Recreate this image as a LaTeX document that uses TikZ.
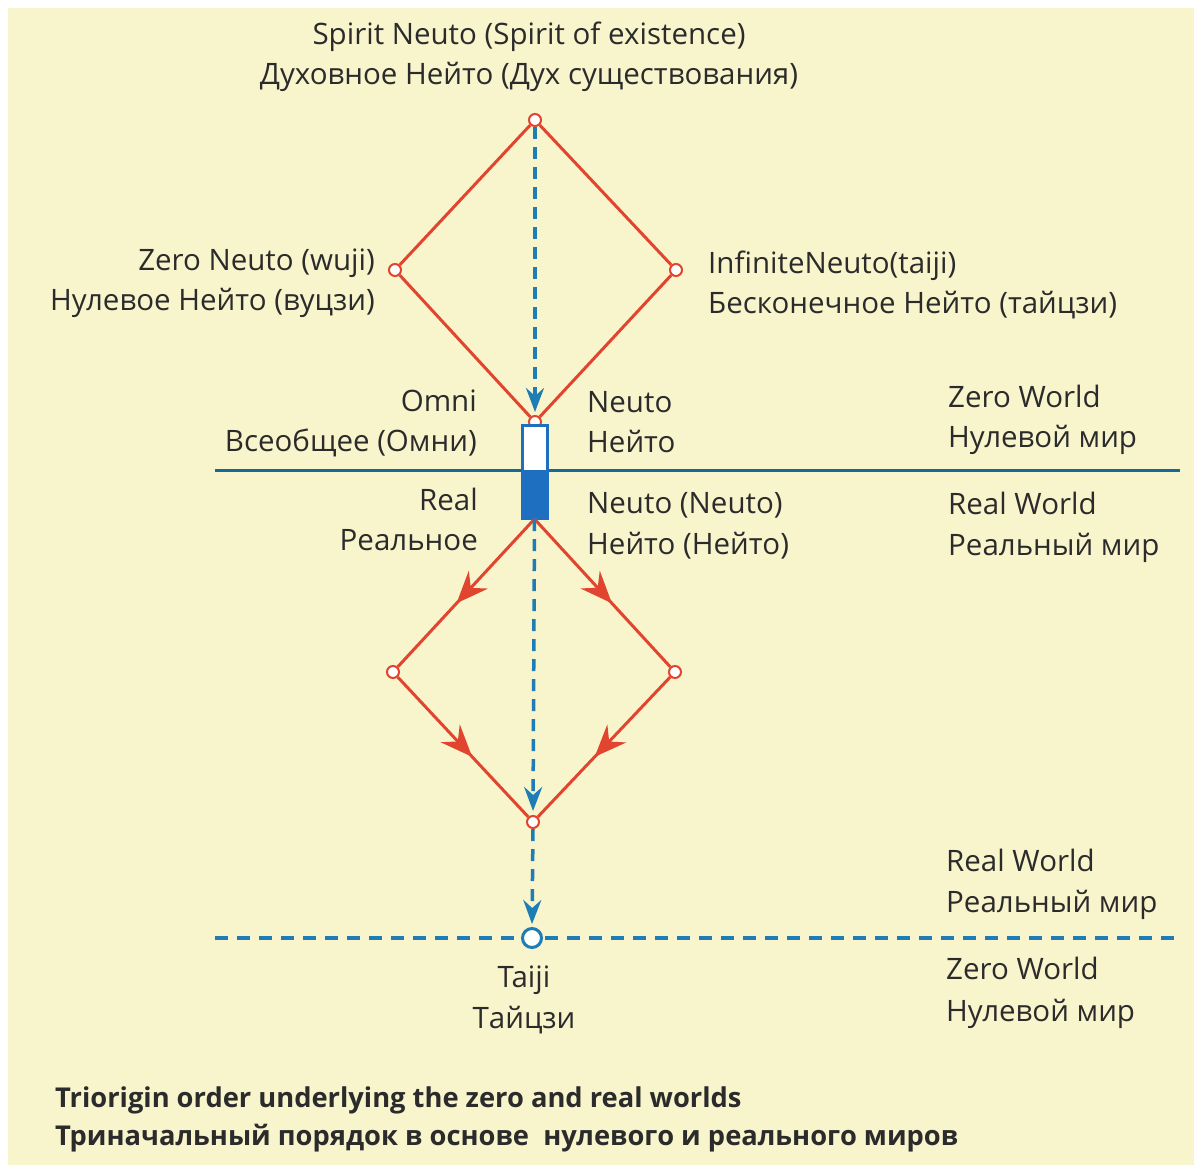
\documentclass[tikz,border=0pt]{standalone}
\usepackage{fontspec}
\setmainfont{Open Sans}
\usetikzlibrary{arrows.meta,decorations.markings}
\definecolor{bg}{HTML}{F8F4CC}
\definecolor{redl}{HTML}{E2452F}
\definecolor{bluel}{HTML}{1F7DB5}
\definecolor{blueh}{HTML}{17699A}
\definecolor{bluef}{HTML}{1F6FC0}
\definecolor{txt}{HTML}{2B2B2B}
\begin{document}
\begin{tikzpicture}[x=1pt,y=-1pt,
 vtx/.style={circle,draw=redl,fill=white,line width=2pt,inner sep=0pt,minimum size=12pt},
 redline/.style={draw=redl,line width=3pt},
 midarrow/.style={postaction={decorate},decoration={markings,mark=at position 0.57 with {\arrow{Stealth[length=32pt,width=26pt,inset=11pt]}}}},
 bdash/.style={draw=bluel,line width=3.5pt,dash pattern=on 12pt off 8pt},
 barrow/.style={-{Stealth[length=24pt,width=18pt,inset=8pt]}},
 lbl/.style={text=txt,font=\fontsize{29.5}{32}\selectfont,inner sep=0pt},
 captxt/.style={text=txt,font=\fontsize{27.3}{30}\selectfont\bfseries,inner sep=0pt,anchor=base west}
]
\useasboundingbox (0,0) rectangle (1194,1168);
\fill[bg] (8,8) rectangle (1194,1165);

% horizontal lines
\coordinate (hl1) at (215,470);
\coordinate (hr1) at (1180,470);
\draw[draw=blueh,line width=3pt] (hl1) -- (hr1);
\coordinate (hl2) at (215,938);
\coordinate (hr2) at (1180,938);
\draw[draw=bluel,line width=3.5pt,dash pattern=on 13pt off 9pt] (hl2) -- (hr2);

% upper diamond
\node[vtx] (S) at (535,120) {};
\node[vtx] (ZN) at (395,270) {};
\node[vtx] (IN) at (676,270) {};
\node[vtx] (O) at (535,422) {};
\draw[redline] (S) -- (ZN);
\draw[redline] (S) -- (IN);
\draw[redline] (ZN) -- (O);
\draw[redline] (IN) -- (O);

% rectangle
\node[draw=bluef,fill=white,line width=2pt,minimum width=24pt,minimum height=92pt,inner sep=0pt] (rect) at (534.5,472) {};
\fill[bluef] (rect.west |- hl1) rectangle (rect.south east);
\draw[draw=bluef,line width=2pt] (rect.north west) rectangle (rect.south east);

% lower diamond
\coordinate (R) at (rect.south);
\node[vtx] (L) at (393,672) {};
\node[vtx] (Rt) at (675,672) {};
\node[vtx] (B) at (533,822) {};
\draw[redline,midarrow] (R) -- (L);
\draw[redline,midarrow] (R) -- (Rt);
\draw[redline,midarrow] (L) -- (B);
\draw[redline,midarrow] (Rt) -- (B);

% taiji circle
\node[circle,draw=bluel,fill=white,line width=3pt,minimum size=19pt,inner sep=0pt] (T) at (532,938) {};

% blue dashed arrows
\draw[bdash,barrow,shorten >=3pt] (S.south) -- (O.north);
\draw[bdash,barrow,shorten >=4pt] (R) -- (B.north);
\draw[bdash,barrow,shorten >=3pt] (B.south) -- (T.north);

% labels
\node[lbl,anchor=base] (t1) at (529,44) {Spirit Neuto (Spirit of existence)};
\node[lbl,anchor=base] (t2) at (529,84) {Духовное Нейто (Дух существования)};
\node[lbl,anchor=base east] (zn1) at (375,270) {Zero Neuto (wuji)};
\node[lbl,anchor=base east] (zn2) at (375,310) {Нулевое Нейто (вуцзи)};
\node[lbl,anchor=base west] (in1) at (708,273) {InfiniteNeuto(taiji)};
\node[lbl,anchor=base west] (in2) at (708,313) {Бесконечное Нейто (тайцзи)};
\node[lbl,anchor=base east] (om1) at (477,411) {Omni};
\node[lbl,anchor=base east] (om2) at (477,451) {Всеобщее (Омни)};
\node[lbl,anchor=base west] (ne1) at (587,412) {Neuto};
\node[lbl,anchor=base west] (ne2) at (587,452) {Нейто};
\node[lbl,anchor=base west] (zw1) at (948,407) {Zero World};
\node[lbl,anchor=base west] (zw2) at (948,447) {Нулевой мир};
\node[lbl,anchor=base east] (re1) at (478,510) {Real};
\node[lbl,anchor=base east] (re2) at (478,550) {Реальное};
\node[lbl,anchor=base west] (nn1) at (587,513) {Neuto (Neuto)};
\node[lbl,anchor=base west] (nn2) at (587,554) {Нейто (Нейто)};
\node[lbl,anchor=base west] (rw1) at (948,514) {Real World};
\node[lbl,anchor=base west] (rw2) at (948,555) {Реальный мир};
\node[lbl,anchor=base west] (rw3) at (946,871) {Real World};
\node[lbl,anchor=base west] (rw4) at (946,912) {Реальный мир};
\node[lbl,anchor=base] (ta1) at (524,987) {Taiji};
\node[lbl,anchor=base] (ta2) at (524,1028) {Тайцзи};
\node[lbl,anchor=base west] (zw3) at (946,979) {Zero World};
\node[lbl,anchor=base west] (zw4) at (946,1021) {Нулевой мир};
\node[captxt] (c1) at (55,1107) {Triorigin order underlying the zero and real worlds};
\node[captxt] (c2) at (55,1145) {Триначальный порядок в основе \ нулевого и реального миров};
\end{tikzpicture}
\end{document}
